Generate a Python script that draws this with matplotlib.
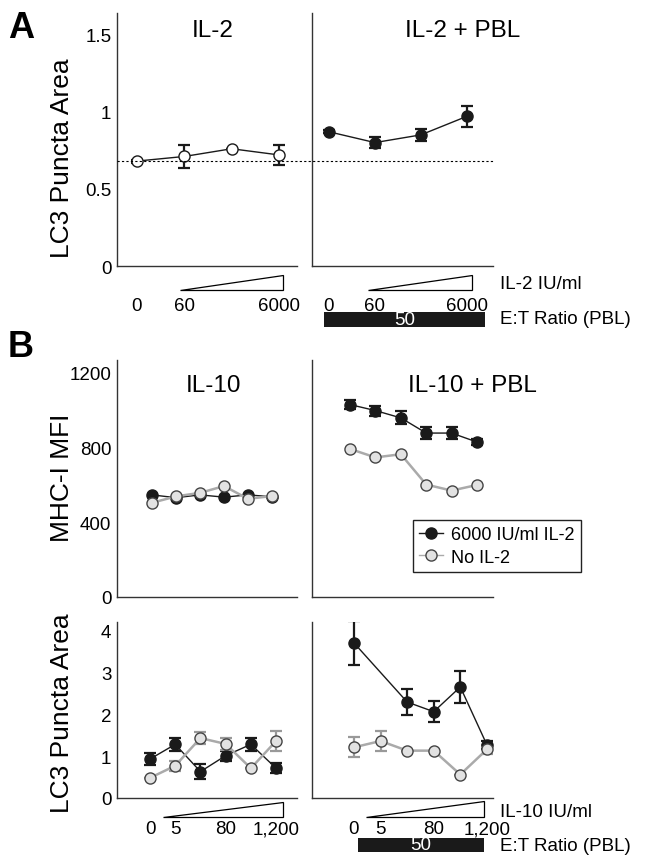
import numpy as np
import matplotlib
matplotlib.use("Agg")
import matplotlib.pyplot as plt
from matplotlib.patches import Polygon, Rectangle
from matplotlib.lines import Line2D
from matplotlib import transforms

plt.rcParams["font.family"] = ["Liberation Sans", "DejaVu Sans"]

# -----------------------------
# Data
# -----------------------------
il2_labels = ["0", "60", "", "6000"]
il10_labels = ["0", "5", "", "80", "", "1,200"]

a_baseline = 0.68
a_il2 = [0.68, 0.71, 0.76, 0.72]
a_il2_err = [0.01, 0.075, 0.0, 0.065]
a_pbl = [0.87, 0.80, 0.85, 0.97]
a_pbl_err = [0.01, 0.035, 0.04, 0.07]

mhc_il10_il2 = [545, 530, 545, 533, 545, 535]
mhc_il10_no = [503, 537, 556, 592, 524, 539]
mhc_pbl_il2 = [1027, 995, 956, 875, 875, 827]
mhc_pbl_il2_err = [25, 27, 35, 32, 32, 15]
mhc_pbl_no = [790, 745, 762, 600, 568, 598]

lc3_il10_il2 = [0.93, 1.28, 0.63, 1.01, 1.28, 0.71]
lc3_il10_il2_err = [0.14, 0.16, 0.17, 0.12, 0.16, 0.12]
lc3_il10_no = [0.48, 0.77, 1.43, 1.29, 0.71, 1.36]
lc3_il10_no_err = [0.0, 0.12, 0.15, 0.14, 0.0, 0.24]
lc3_pbl_il2 = [3.70, np.nan, 2.29, 2.06, 2.65, 1.27]
lc3_pbl_il2_err = [0.53, np.nan, 0.32, 0.25, 0.38, 0.10]
lc3_pbl_no = [1.21, 1.36, 1.13, 1.13, 0.56, 1.16]
lc3_pbl_no_err = [0.24, 0.23, 0.0, 0.0, 0.0, 0.10]

# -----------------------------
# Layout helpers (pixel coords)
# -----------------------------
W, H = 645, 862
fig = plt.figure(figsize=(W / 100, H / 100), dpi=100)


def px(x, y):
    return x / W, 1 - y / H


def add_ax(x0, y0, x1, y1):
    return fig.add_axes([x0 / W, 1 - y1 / H, (x1 - x0) / W, (y1 - y0) / H])


AX_COL = "#333333"
BLACK = "#1a1a1a"
GRAY_FILL = "#e2e2e2"
GRAY_LINE = "#aaaaaa"
TICK_FS = 13.5


def style(ax, xlim, ylim, yticks=None, ylabels=None):
    ax.set_xlim(*xlim)
    ax.set_ylim(*ylim)
    for s in ["top", "right"]:
        ax.spines[s].set_visible(False)
    for s in ["left", "bottom"]:
        ax.spines[s].set_color(AX_COL)
        ax.spines[s].set_linewidth(1.0)
    ax.tick_params(length=0, labelsize=TICK_FS)
    ax.set_xticks([])
    if yticks is None:
        ax.set_yticks([])
    else:
        ax.set_yticks(yticks, ylabels)
        ax.tick_params(axis="y", pad=4)
    ax.patch.set_alpha(0)


def series(ax, y, err, kind):
    y = np.asarray(y, dtype=float)
    x = np.arange(len(y))
    ok = ~np.isnan(y)
    if kind == "black":
        lc, fc, ec, lw, errc = BLACK, BLACK, BLACK, 1.0, BLACK
    elif kind == "gray":
        lc, fc, ec, lw, errc = GRAY_LINE, GRAY_FILL, "#444444", 1.8, "#999999"
    else:
        lc, fc, ec, lw, errc = BLACK, "white", BLACK, 1.0, BLACK
    if err is not None:
        e = np.asarray(err, dtype=float)
        ax.errorbar(x[ok], y[ok], yerr=e[ok], fmt="none", ecolor=errc,
                    elinewidth=1.6, capsize=4, capthick=1.6, zorder=2)
    ax.plot(x[ok], y[ok], color=lc, linewidth=lw, marker="o", markersize=8,
            markerfacecolor=fc, markeredgecolor=ec, markeredgewidth=1.0, zorder=3)


def wedge(x0, x1, ytop, ybot):
    pts = [px(x0, ybot), px(x1, ybot), px(x1, ytop)]
    fig.add_artist(Polygon(pts, closed=True, facecolor="white", edgecolor="black",
                           linewidth=0.9, transform=fig.transFigure))


def bar(x0, x1, y0, y1, label):
    fx, fy = px(x0, y1)
    fig.add_artist(Rectangle((fx, fy), (x1 - x0) / W, (y1 - y0) / H,
                             facecolor=BLACK, edgecolor="none", transform=fig.transFigure))
    cx, cy = px((x0 + x1) / 2, (y0 + y1) / 2)
    fig.text(cx, cy, label, color="white", fontsize=TICK_FS, ha="center", va="center")


def ftext(x, y, s, **kw):
    fig.text(*px(x, y), s, **kw)


# -----------------------------
# Panel A
# -----------------------------
axA1 = add_ax(117, 14, 297, 267)
axA2 = add_ax(312, 14, 493, 267)
style(axA1, (-0.42, 3.38), (0, 1.64), [0, 0.5, 1, 1.5], ["0", "0.5", "1", "1.5"])
style(axA2, (-0.37, 3.57), (0, 1.64))
series(axA1, a_il2, a_il2_err, "open")
series(axA2, a_pbl, a_pbl_err, "black")
for ax in (axA1, axA2):
    ax.set_xticks(range(len(il2_labels)), il2_labels)
    ax.tick_params(axis="x", pad=22, labelsize=TICK_FS)

# dotted baseline across both panels
tr = transforms.blended_transform_factory(fig.transFigure, axA1.transData)
fig.add_artist(Line2D([117 / W, 493 / W], [a_baseline, a_baseline], transform=tr,
                      color="black", linestyle=(0, (2, 2)), linewidth=0.8))

# -----------------------------
# Panel B - MHC-I
# -----------------------------
axB1 = add_ax(117, 361, 297, 598)
axB2 = add_ax(312, 361, 493, 598)
style(axB1, (-1.46, 6.04), (0, 1265), [0, 400, 800, 1200], ["0", "400", "800", "1200"])
style(axB2, (-1.5, 5.63), (0, 1265))
series(axB1, mhc_il10_il2, None, "black")
series(axB1, mhc_il10_no, None, "gray")
series(axB2, mhc_pbl_il2, mhc_pbl_il2_err, "black")
series(axB2, mhc_pbl_no, None, "gray")

h1 = Line2D([], [], color=BLACK, linewidth=1.0, marker="o", markersize=8,
            markerfacecolor=BLACK, markeredgecolor=BLACK)
h2 = Line2D([], [], color=GRAY_LINE, linewidth=1.0, marker="o", markersize=8,
            markerfacecolor=GRAY_FILL, markeredgecolor="#444444")
leg = axB2.legend([h1, h2], ["6000 IU/ml IL-2", "No IL-2"], loc="upper left",
                  bbox_to_anchor=px(413, 521), bbox_transform=fig.transFigure,
                  borderaxespad=0, fancybox=False, framealpha=1, edgecolor="#222222",
                  fontsize=13, handlelength=1.3, handletextpad=0.45,
                  labelspacing=0.3, borderpad=0.35)
leg.get_frame().set_linewidth(1.0)

# -----------------------------
# Panel B - LC3
# -----------------------------
axC1 = add_ax(117, 623, 297, 799)
axC2 = add_ax(312, 623, 493, 799)
style(axC1, (-1.31, 5.83), (0, 4.2), [0, 1, 2, 3, 4], ["0", "1", "2", "3", "4"])
style(axC2, (-1.58, 5.23), (0, 4.2))
series(axC1, lc3_il10_il2, lc3_il10_il2_err, "black")
series(axC1, lc3_il10_no, lc3_il10_no_err, "gray")
series(axC2, lc3_pbl_il2, lc3_pbl_il2_err, "black")
series(axC2, lc3_pbl_no, lc3_pbl_no_err, "gray")
for ax in (axC1, axC2):
    ax.set_xticks(range(len(il10_labels)), il10_labels)
    ax.tick_params(axis="x", pad=16, labelsize=TICK_FS)

# -----------------------------
# Decorations
# -----------------------------
wedge(180, 283, 276, 291)
wedge(368, 472, 276, 291)
wedge(163, 283, 803, 818)
wedge(366, 484, 802, 818)
bar(324, 485, 313, 328, "50")
bar(358, 484, 839, 853, "50")

ftext(500, 285, "IL-2 IU/ml", fontsize=TICK_FS, ha="left", va="center")
ftext(500, 320, "E:T Ratio (PBL)", fontsize=TICK_FS, ha="left", va="center")
ftext(500, 813, "IL-10 IU/ml", fontsize=TICK_FS, ha="left", va="center")
ftext(500, 847, "E:T Ratio (PBL)", fontsize=TICK_FS, ha="left", va="center")

ftext(213, 31, "IL-2", fontsize=17.5, ha="center", va="center")
ftext(463, 31, "IL-2 + PBL", fontsize=17.5, ha="center", va="center")
ftext(213, 386, "IL-10", fontsize=17.5, ha="center", va="center")
ftext(472, 386, "IL-10 + PBL", fontsize=17.5, ha="center", va="center")

ftext(62, 158, "LC3 Puncta Area", fontsize=19, rotation=90, ha="center", va="center")
ftext(62, 478, "MHC-I MFI", fontsize=19, rotation=90, ha="center", va="center")
ftext(62, 713, "LC3 Puncta Area", fontsize=19, rotation=90, ha="center", va="center")

ftext(8, 11, "A", fontsize=26, fontweight="bold", ha="left", va="top")
ftext(8, 330, "B", fontsize=26, fontweight="bold", ha="left", va="top")

fig.savefig("out.png", dpi=100)
